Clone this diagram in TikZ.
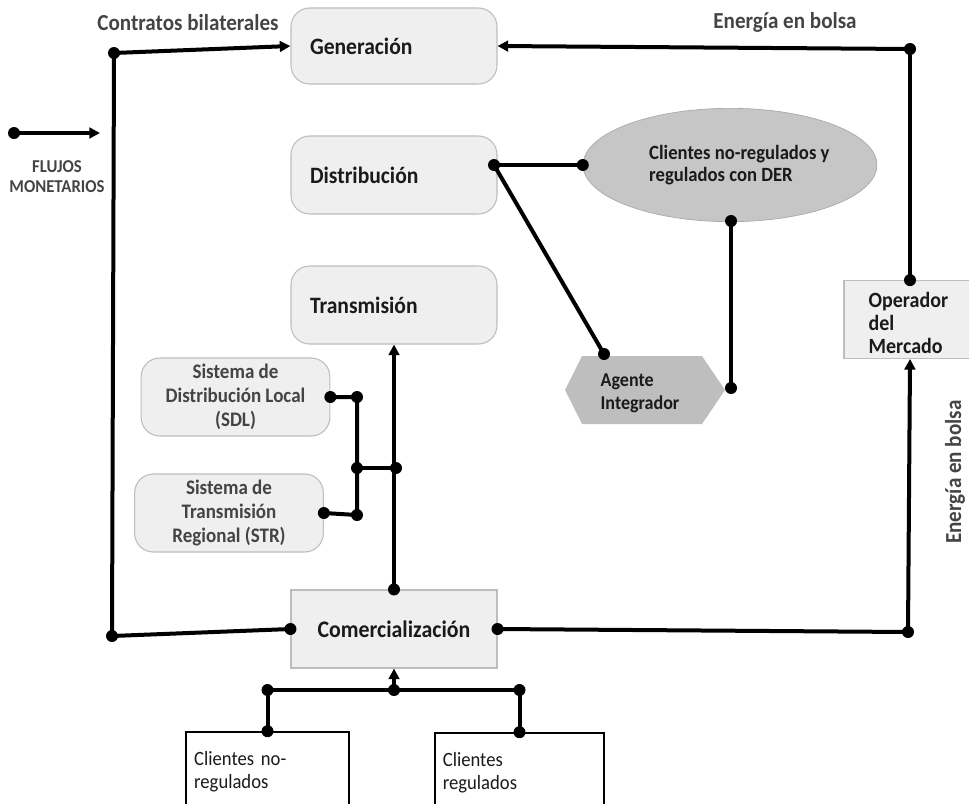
\documentclass[tikz,border=0pt]{standalone}
\usepackage{fontspec}
\setmainfont{Carlito}[FakeStretch=0.92]
\usetikzlibrary{shapes.geometric,arrows.meta}
\definecolor{boxfill}{HTML}{EFEFEF}
\definecolor{boxline}{HTML}{BDBDBD}
\definecolor{ellfill}{HTML}{C6C6C6}
\definecolor{hexfill}{HTML}{BEBEBE}
\definecolor{labgray}{HTML}{444444}
\definecolor{txt}{HTML}{1A1A1A}
\begin{document}
\begin{tikzpicture}[x=0.75pt,y=-0.75pt,
  rbox/.style={draw=boxline, fill=boxfill, rounded corners=14pt, line width=0.8pt,
    font=\fontsize{17.6}{19}\selectfont\bfseries, text=txt},
  sbox/.style={rbox, text=labgray, align=center, font=\fontsize{15.5}{18}\selectfont\bfseries,
    minimum width=141.5pt, minimum height=58.5pt},
  pbox/.style={draw=black, fill=white, line width=1.2pt, align=left,
    font=\fontsize{15.2}{17.5}\selectfont, text=txt},
  flow/.style={line width=3pt},
  arr/.style={flow, -{Triangle[length=8pt,width=8pt]}},
  lab/.style={font=\fontsize{17.2}{18}\selectfont\bfseries, text=labgray},
  dot/.style={circle, fill=black, inner sep=0pt, minimum size=9pt}
]
\useasboundingbox (0,0) rectangle (969,803);

% main boxes
\node[rbox, minimum width=154.5pt, minimum height=57pt, text width=126pt, align=left] (gen) at (394,46) {Generación};
\node[rbox, minimum width=154.5pt, minimum height=58.5pt, text width=126pt, align=left] (dist) at (394,175) {Distribución};
\node[rbox, minimum width=154.5pt, minimum height=58.5pt, text width=126pt, align=left] (trans) at (394,305) {Transmisión};
\node[sbox] (sdl) at (235.5,397) {Sistema de\\Distribución Local\\(SDL)};
\node[sbox] (str) at (229,513) {Sistema de\\Transmisión\\Regional (STR)};
\node[draw=boxline, fill=boxfill, line width=0.8pt, minimum width=154.5pt, minimum height=58.5pt,
  font=\fontsize{17.8}{19}\selectfont\bfseries, text=txt] (com) at (394,629) {Comercialización};
\node[pbox, minimum width=122pt, minimum height=60pt, text width=110pt] (cnr) at (267.5,772) {\mbox{Clientes no-}\\regulados\\[14pt]};
\node[pbox, minimum width=127pt, minimum height=60pt, text width=115pt] (cr) at (519.5,773) {Clientes\\regulados\\[14pt]};
\node[draw=boxline, fill=boxfill, line width=0.8pt, minimum width=99pt, minimum height=58pt,
  text width=62pt, align=left, font=\fontsize{16.3}{17.5}\selectfont\bfseries, text=txt] (op) at (910,319.5) {\\[-1pt]Operador\\del\\Mercado};
\node[ellipse, fill=ellfill, draw=ellfill!85!black, line width=0.5pt, minimum width=172pt, minimum height=85pt,
  align=left, font=\fontsize{15.2}{16.5}\selectfont\bfseries, text=txt] (ell) at (730,165) {\hspace*{14pt}Clientes no-regulados y\\\hspace*{14pt}regulados con DER};
% hexagon
\fill[hexfill] (565,390) -- (582,356) -- (702,356) -- (725,390) -- (702,424) -- (582,424) -- cycle;
\node[align=left, font=\fontsize{14.7}{17}\selectfont\bfseries, text=txt] (agent) at (640,393) {Agente\\Integrador};

% labels
\node[lab] (lcb) at (188,23) {Contratos bilaterales};
\node[lab] (leb) at (785,22) {Energía en bolsa};
\node[lab, rotate=90] (leb2) at (955,472) {Energía en bolsa};
\node[align=center, font=\fontsize{13.6}{15}\selectfont\bfseries, text=labgray] (lflu) at (57,177) {FLUJOS\\MONETARIOS};

% coordinates
\coordinate (lg1) at (14,133);
\coordinate (lg2) at (100,133);
\coordinate (cb) at (114,53);
\coordinate (cbl) at (112,636);
\coordinate (eb) at (910,49);
\coordinate (er) at (908,632);
\coordinate (dj) at (494,165);
\coordinate (hexT) at (604,354);
\coordinate (hexR) at (731,388);
\coordinate (ellS) at (731,221);
\coordinate (jt) at (396,468);
\coordinate (sdlj) at (357,397);
\coordinate (strj) at (357,515);
\coordinate (mj) at (357,468);
\coordinate (bj) at (394,690);
\coordinate (bl) at (cnr.north |- bj);
\coordinate (br) at (cr.north |- bj);

% legend
\draw[arr] (lg1) -- (lg2);
\node[dot] at (lg1) {};

% contratos bilaterales
\draw[flow] (cbl) -- (cb);
\draw[arr] (cb) -- (gen.west);
\draw[flow] (com.west) -- (cbl);
\node[dot] at (cb) {};
\node[dot] at (cbl) {};
\node[dot] at (com.west) {};

% energia en bolsa
\draw[arr] (eb) -- (gen.east);
\draw[flow] (eb) -- (op.north);
\node[dot] at (eb) {};
\node[dot] at (op.north) {};
\draw[flow] (com.east) -- (er);
\draw[arr] (er) -- (op.south);
\node[dot] at (com.east) {};
\node[dot] at (er) {};

% distribucion - DER - agente
\draw[flow] (dj) -- (ell.west);
\draw[flow] (dj) -- (hexT);
\draw[flow] (ellS) -- (hexR);
\node[dot] at (dj) {};
\node[dot] at (ell.west) {};
\node[dot] at (hexT) {};
\node[dot] at (ellS) {};
\node[dot] at (hexR) {};

% transmision
\draw[arr] (com.north) -- (trans.south);
\node[dot] at (com.north) {};
\draw[flow] (sdl.east) -- (sdlj) -- (strj) -- (str.east);
\draw[flow] (mj) -- (jt);
\node[dot] at (sdl.east) {};
\node[dot] at (sdlj) {};
\node[dot] at (str.east) {};
\node[dot] at (strj) {};
\node[dot] at (mj) {};
\node[dot] at (jt) {};

% clientes
\draw[arr] (bj) -- (com.south);
\draw[flow] (bl) -- (br);
\draw[flow] (bl) -- (cnr.north);
\draw[flow] (br) -- (cr.north);
\node[dot] at (bl) {};
\node[dot] at (br) {};
\node[dot] at (bj) {};
\node[dot] at (cnr.north) {};
\node[dot] at (cr.north) {};
\end{tikzpicture}
\end{document}
